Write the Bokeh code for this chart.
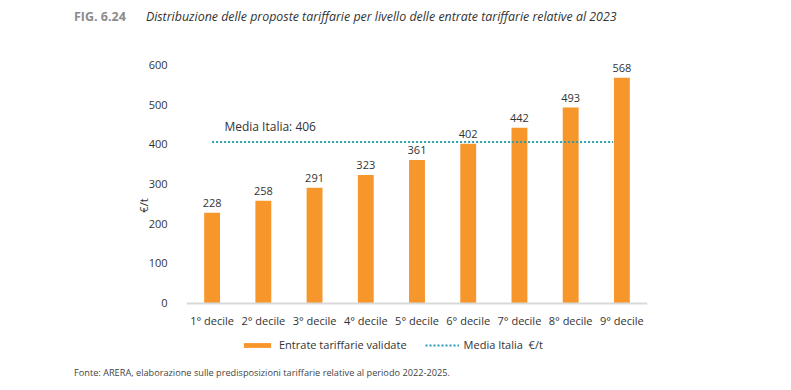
from bokeh.plotting import figure
from bokeh.models import Range1d, FixedTicker, Label, Legend, LegendItem, ColumnDataSource, Div
from bokeh.layouts import column
from bokeh.core.properties import value
from bokeh.embed import file_html
from bokeh.resources import INLINE

categories = ["1° decile", "2° decile", "3° decile", "4° decile", "5° decile",
              "6° decile", "7° decile", "8° decile", "9° decile"]
values = [228, 258, 291, 323, 361, 402, 442, 493, 568]
media_italia = 406
y_ticks = [0, 100, 200, 300, 400, 500, 600]

FONT = "Open Sans"
ORANGE = "#F7962B"
TEAL = "#2A9DB3"
TXT = "#333333"

xs = [i + 0.5 for i in range(len(categories))]
src = ColumnDataSource(dict(x=xs, top=values, lab=[str(v) for v in values]))

header = Div(width=785, height=36, margin=(0, 0, 0, 0),
             text=("<div style='font-family:\"Open Sans\";padding:10px 0 0 74px;"
                   "white-space:nowrap;line-height:14px'>"
                   "<span style='font-weight:bold;color:#8C8C8C;font-size:12.5px'>FIG. 6.24</span>"
                   "<span style='display:inline-block;width:20px'></span>"
                   "<span style='font-style:italic;color:#333333;font-size:12.4px'>Distribuzione delle proposte tariffarie "
                   "per livello delle entrate tariffarie relative al 2023</span></div>"))

p = figure(width=785, height=328, output_backend="svg", toolbar_location=None,
           x_range=Range1d(0, 9), y_range=Range1d(-155, 647),
           min_border_left=186, min_border_right=138, min_border_top=10, min_border_bottom=0,
           margin=(0, 0, 0, 0))
p.outline_line_color = None
p.xgrid.grid_line_color = None
p.ygrid.grid_line_color = None

bars = p.vbar(x="x", top="top", bottom=0, width=0.31, source=src, fill_color=ORANGE, line_color=None)
p.text(x="x", y="top", text="lab", source=src, y_offset=-6, text_align="center",
       text_baseline="bottom", text_font_size="11px", text_color=TXT, text_font=value(FONT))

line = p.line(x=[xs[0], 8.33], y=[media_italia, media_italia], line_color=TEAL,
              line_width=2, line_dash="2 2")
p.add_layout(Label(x=0.74, y=445, text=f"Media Italia: {media_italia}", text_font=FONT,
                   text_font_size="12px", text_color=TXT, text_baseline="middle"))

p.xaxis.fixed_location = 0
p.xaxis.ticker = FixedTicker(ticks=xs)
p.xaxis.major_label_overrides = {x: c for x, c in zip(xs, categories)}
p.xaxis.axis_line_color = "#d9d9d9"
p.xaxis.axis_line_width = 2
p.xaxis.major_tick_line_color = None
p.xaxis.minor_tick_line_color = None
p.xaxis.major_label_standoff = 4
p.xaxis.major_label_text_font = FONT
p.xaxis.major_label_text_font_size = "11px"
p.xaxis.major_label_text_color = TXT

p.yaxis.ticker = FixedTicker(ticks=y_ticks)
p.yaxis.axis_line_color = None
p.yaxis.major_tick_line_color = None
p.yaxis.minor_tick_line_color = None
p.yaxis.major_label_standoff = 13
p.yaxis.major_label_text_font = FONT
p.yaxis.major_label_text_font_size = "11px"
p.yaxis.major_label_text_color = TXT
p.yaxis.axis_label = "€/t"
p.yaxis.axis_label_standoff = -5
p.yaxis.axis_label_text_font = FONT
p.yaxis.axis_label_text_font_size = "11px"
p.yaxis.axis_label_text_font_style = "normal"
p.yaxis.axis_label_text_color = TXT

legend = Legend(items=[LegendItem(label="Entrate tariffarie validate", renderers=[bars]),
                       LegendItem(label="Media Italia  €/t", renderers=[line])],
                orientation="horizontal", location=(54, 12), padding=0, margin=0,
                spacing=18, glyph_width=34, glyph_height=6, label_standoff=5,
                label_text_font=FONT, label_text_font_size="11px", label_text_color=TXT,
                border_line_color=None, background_fill_alpha=0)
p.add_layout(legend, "center")

footer = Div(width=785, height=26, margin=(0, 0, 0, 0),
             text=("<div style='font-family:\"Open Sans\";font-size:9.2px;color:#444444;"
                   "padding:3px 0 0 74px;white-space:nowrap;line-height:12px'>"
                   "Fonte: ARERA, elaborazione sulle predisposizioni tariffarie relative al periodo 2022-2025."
                   "</div>"))

layout = column(header, p, footer, spacing=0)
open("out.html", "w").write(file_html(layout, INLINE))
